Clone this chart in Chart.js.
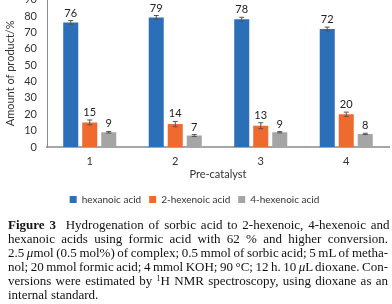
<!DOCTYPE html>
<html>
<head>
<meta charset="utf-8">
<script src="https://cdn.jsdelivr.net/npm/chart.js@4/dist/chart.umd.min.js"></script>
<style>
html, body { margin: 0; padding: 0; background: #fff; width: 392px; height: 304px; overflow: hidden; position: relative; }
#wrap { position: absolute; left: 0; top: -17px; width: 392px; height: 235px; }
#cap { position: absolute; left: 8px; top: 218px; width: 380px; font-family: "Liberation Serif", serif; font-size: 13px; line-height: 14px; color: #111; }
#cap div { white-space: nowrap; }
#cap span.ln { display: inline-block; }
#cap i { font-style: italic; }
#cap sup { font-size: 8px; line-height: 0; vertical-align: 4px; }
</style>
</head>
<body>
<div id="wrap"><canvas id="bar"></canvas></div>
<div id="cap">
  <div><span class="ln"><b>Figure 3</b>&nbsp; Hydrogenation of sorbic acid to 2-hexenoic, 4-hexenoic and</span></div>
  <div><span class="ln">hexanoic acids using formic acid with 62 % and higher conversion.</span></div>
  <div><span class="ln">2.5 <i>μ</i>mol (0.5 mol%) of complex; 0.5 mmol of sorbic acid; 5 mL of metha-</span></div>
  <div><span class="ln">nol; 20 mmol formic acid; 4 mmol KOH; 90 °C; 12 h. 10 <i>μ</i>L dioxane. Con-</span></div>
  <div><span class="ln">versions were estimated by <sup>1</sup>H NMR spectroscopy, using dioxane as an</span></div>
  <div><span>internal standard.</span></div>
</div>
<script>
var catalysts = ['1', '2', '3', '4'];
var hexanoic = [76, 79, 78, 72];
var hexanoicErr = [1.2, 1.3, 1.2, 1.2];
var hexenoic2 = [15, 14, 13, 20];
var hexenoic2Err = [1.5, 1.6, 1.8, 1.3];
var hexenoic4 = [9, 7, 9, 8];
var hexenoic4Err = [0.5, 0.6, 0.4, 0.4];

var font = 'Lato';

// stretch every caption line (but the last) to the full width,
// squeezing letters a bit when the line is too long
document.querySelectorAll('#cap span.ln').forEach(function (el) {
    var w = el.getBoundingClientRect().width;
    var n = (el.textContent.match(/ /g) || []).length;
    var ws = (380 - w) / n;
    if (ws < -0.8) {
        var chars = el.textContent.length;
        el.style.wordSpacing = '-0.8px';
        el.style.letterSpacing = ((380 - w + 0.8 * n) / chars) + 'px';
    } else {
        el.style.wordSpacing = ws + 'px';
    }
});

// error bars and the value labels above them
var errorBars = {
    id: 'errorBars',
    afterDatasetsDraw: function (chart) {
        var ctx = chart.ctx;
        var y = chart.scales.y;
        chart.data.datasets.forEach(function (ds, i) {
            var meta = chart.getDatasetMeta(i);
            meta.data.forEach(function (bar, j) {
                var v = ds.data[j], e = ds.errors[j];
                var top = y.getPixelForValue(v + e);
                var bot = y.getPixelForValue(v - e);
                ctx.save();
                ctx.strokeStyle = '#555';
                ctx.lineWidth = 1;
                ctx.beginPath();
                ctx.moveTo(bar.x, top); ctx.lineTo(bar.x, bot);
                ctx.moveTo(bar.x - 2.5, top); ctx.lineTo(bar.x + 2.5, top);
                ctx.moveTo(bar.x - 2.5, bot); ctx.lineTo(bar.x + 2.5, bot);
                ctx.stroke();
                ctx.fillStyle = '#222';
                ctx.font = '11px ' + font;
                ctx.textAlign = 'center';
                ctx.textBaseline = 'bottom';
                ctx.fillText(String(v), bar.x, top - 2);
                ctx.restore();
            });
        });
    }
};

var ctx = document.getElementById('bar').getContext('2d');
var chart = new Chart(ctx, {
    type: 'bar',
    data: {
        labels: catalysts,
        datasets: [{
            label: 'hexanoic acid',
            data: hexanoic,
            errors: hexanoicErr,
            backgroundColor: '#2a6fb7'
        }, {
            label: '2-hexenoic acid',
            data: hexenoic2,
            errors: hexenoic2Err,
            backgroundColor: '#ee6a2f'
        }, {
            label: '4-hexenoic acid',
            data: hexenoic4,
            errors: hexenoic4Err,
            backgroundColor: '#a5a5a5'
        }]
    },
    options: {
        responsive: true,
        maintainAspectRatio: false,
        animation: false,
        datasets: {
            bar: { categoryPercentage: 0.667, barPercentage: 0.79 }
        },
        layout: { padding: { top: 0.6, right: 3, bottom: 3.5, left: 0 } },
        scales: {
            x: {
                grid: { display: false, drawTicks: false },
                border: { display: true, color: '#a6a6a6', width: 2 },
                ticks: { color: '#333', padding: 8, font: { family: font, size: 11 } },
                title: {
                    display: true, text: 'Pre-catalyst', color: '#333',
                    font: { family: font, size: 11 }, padding: { top: 0, bottom: 5 }
                },
                afterFit: function (s) { s.height = 39.5; }
            },
            y: {
                min: 0,
                max: 90,
                grid: { display: false, drawTicks: false },
                border: { display: true, color: '#8c8c8c', width: 1 },
                ticks: { stepSize: 10, autoSkip: false, color: '#333', padding: 10, font: { family: font, size: 11 } },
                title: {
                    display: true, text: 'Amount of product/%', color: '#333',
                    font: { family: font, size: 11 }, padding: { top: 3.5, bottom: 0 }
                },
                afterFit: function (s) { s.width = 47; }
            }
        },
        plugins: {
            legend: {
                position: 'bottom',
                labels: {
                    boxWidth: 7, boxHeight: 7, padding: 8, color: '#333',
                    font: { family: font, size: 10 }
                }
            },
            tooltip: { enabled: false }
        }
    },
    plugins: [errorBars]
});
</script>
</body>
</html>
